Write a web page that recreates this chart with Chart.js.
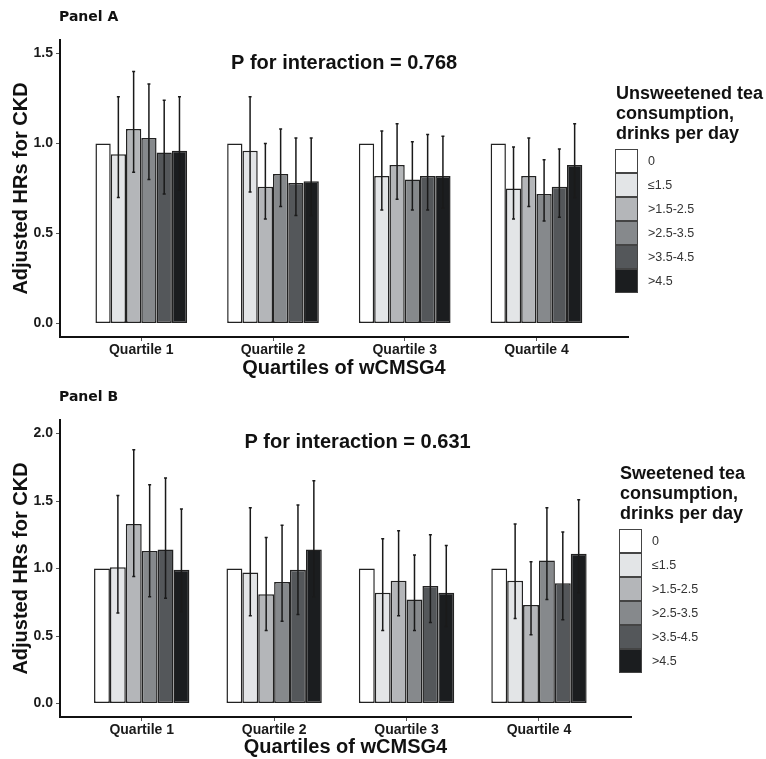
<!DOCTYPE html>
<html>
<head>
<meta charset="utf-8">
<script src="https://cdn.jsdelivr.net/npm/chart.js@4.4.1/dist/chart.umd.min.js"></script>
<style>
    body { margin: 0; background: #fff; }
    #wrap { position: relative; width: 766px; height: 759px; background: #fff; }
    canvas { position: absolute; left: 0; }
    .legend { position: absolute; font-family: "Liberation Sans", Arial, sans-serif; color: #111; }
    .legend-title { font-weight: bold; font-size: 18px; line-height: 20px; white-space: nowrap; }
    .legend-item { position: absolute; height: 24px; }
    .legend-key { position: absolute; top: 0; width: 23px; height: 24px; box-sizing: border-box; border: 1.5px solid #444; }
    .legend-label { position: absolute; top: 0; line-height: 24px; font-size: 12.5px; color: #333; white-space: nowrap; }
</style>
</head>
<body>
<div id="wrap">
    <canvas id="panelA" width="766" height="380" style="top:0"></canvas>
    <canvas id="panelB" width="766" height="379" style="top:380px"></canvas>
    <div id="legendA" class="legend"></div>
    <div id="legendB" class="legend"></div>
</div>
<script>
const QUARTILES = ['Quartile 1', 'Quartile 2', 'Quartile 3', 'Quartile 4'];
const LEVELS = ['0', '≤1.5', '>1.5-2.5', '>2.5-3.5', '>3.5-4.5', '>4.5'];

// Panel A - unsweetened tea (rows = level, cols = quartile)
const unsweetHR = [
    [1.00, 1.00, 1.00, 1.00],
    [0.94, 0.96, 0.82, 0.75],
    [1.08, 0.76, 0.88, 0.82],
    [1.03, 0.83, 0.80, 0.72],
    [0.95, 0.78, 0.82, 0.76],
    [0.96, 0.79, 0.82, 0.88]
];
const unsweetLow = [
    [null, null, null, null],
    [0.70, 0.73, 0.63, 0.58],
    [0.84, 0.58, 0.69, 0.65],
    [0.80, 0.65, 0.63, 0.57],
    [0.72, 0.60, 0.63, 0.59],
    [0.74, 0.60, 0.64, 0.70]
];
const unsweetHigh = [
    [null, null, null, null],
    [1.26, 1.26, 1.07, 0.98],
    [1.40, 1.00, 1.11, 1.03],
    [1.33, 1.08, 1.01, 0.91],
    [1.24, 1.03, 1.05, 0.97],
    [1.26, 1.03, 1.04, 1.11]
];

// Panel B - sweetened tea
const sweetHR = [
    [1.00, 1.00, 1.00, 1.00],
    [1.01, 0.97, 0.82, 0.91],
    [1.33, 0.81, 0.91, 0.73],
    [1.13, 0.90, 0.77, 1.06],
    [1.14, 0.99, 0.87, 0.89],
    [0.99, 1.14, 0.82, 1.11]
];
const sweetLow = [
    [null, null, null, null],
    [0.67, 0.65, 0.54, 0.63],
    [0.94, 0.54, 0.65, 0.51],
    [0.79, 0.61, 0.54, 0.77],
    [0.78, 0.66, 0.60, 0.62],
    [0.68, 0.79, 0.57, 0.82]
];
const sweetHigh = [
    [null, null, null, null],
    [1.54, 1.45, 1.22, 1.33],
    [1.88, 1.23, 1.28, 1.05],
    [1.62, 1.32, 1.10, 1.45],
    [1.67, 1.47, 1.25, 1.27],
    [1.44, 1.65, 1.17, 1.51]
];

const yTicksA = [0, 0.5, 1.0, 1.5];
const yTicksB = [0, 0.5, 1.0, 1.5, 2.0];

const FILLS = ['#ffffff', '#e3e5e7', '#b4b6b9', '#86898c', '#54575a', '#1b1d1f'];
const FONT = '"Liberation Sans", Arial, sans-serif';

// whiskers for the confidence intervals
const errorBars = {
    id: 'errorBars',
    afterDatasetsDraw(chart) {
        const ctx = chart.ctx;
        const y = chart.scales.y;
        ctx.save();
        ctx.strokeStyle = '#1a1a1a';
        ctx.lineWidth = 1.5;
        chart.data.datasets.forEach((ds, i) => {
            const meta = chart.getDatasetMeta(i);
            meta.data.forEach((bar, j) => {
                const lo = ds.low[j], hi = ds.high[j];
                if (lo == null || hi == null) return;
                const yl = y.getPixelForValue(lo);
                const yh = y.getPixelForValue(hi);
                ctx.beginPath();
                ctx.moveTo(bar.x, yl); ctx.lineTo(bar.x, yh);
                ctx.moveTo(bar.x - 1.5, yl); ctx.lineTo(bar.x + 1.5, yl);
                ctx.moveTo(bar.x - 1.5, yh); ctx.lineTo(bar.x + 1.5, yh);
                ctx.stroke();
            });
        });
        ctx.restore();
    }
};

// "Panel X" heading and the P for interaction note
const panelText = {
    id: 'panelText',
    afterDraw(chart, args, opts) {
        const ctx = chart.ctx;
        ctx.save();
        ctx.fillStyle = '#111';
        ctx.textBaseline = 'middle';
        ctx.textAlign = 'left';
        ctx.font = 'bold 14px "DejaVu Sans"';
        ctx.fillText(opts.panel, chart.chartArea.left - 1, 17);
        ctx.textAlign = 'center';
        ctx.font = 'bold 20px ' + FONT;
        ctx.fillText(opts.note, chart.scales.x.getPixelForValue(opts.noteX), chart.scales.y.getPixelForValue(opts.noteY));
        ctx.restore();
    }
};

function buildDatasets(hr, low, high, catPct) {
    return LEVELS.map((lvl, i) => ({
        label: lvl,
        data: hr[i].map((v, q) => ({ x: q + 1, y: v })),
        low: low[i],
        high: high[i],
        backgroundColor: FILLS[i],
        borderColor: '#222',
        borderWidth: 1.5,
        borderSkipped: false,
        categoryPercentage: catPct,
        barPercentage: 1
    }));
}

function createPanel(id, cfg) {
    const ctx = document.getElementById(id).getContext('2d');
    new Chart(ctx, {
        type: 'bar',
        data: { datasets: buildDatasets(cfg.hr, cfg.low, cfg.high, cfg.catPct) },
        options: {
            responsive: false,
            animation: false,
            devicePixelRatio: 1,
            layout: { padding: { top: 40, left: 0, right: cfg.padRight, bottom: 0 } },
            plugins: {
                legend: { display: false },
                tooltip: { enabled: false },
                panelText: { panel: cfg.panel, note: cfg.note, noteX: cfg.noteX, noteY: cfg.noteY }
            },
            scales: {
                x: {
                    type: 'linear',
                    min: 0.383,
                    max: 4.695,
                    offset: false,
                    afterBuildTicks: s => { s.ticks = QUARTILES.map((q, i) => ({ value: i + 1 })); },
                    afterFit: s => { s.height = cfg.xHeight; },
                    ticks: {
                        callback: v => QUARTILES[v - 1],
                        color: '#1a1a1a',
                        font: { family: FONT, size: 14, weight: 'bold' },
                        padding: 1,
                        maxRotation: 0
                    },
                    grid: { display: true, offset: false, drawOnChartArea: false, drawTicks: true, tickLength: 4, color: '#555' },
                    border: { display: true, color: '#111', width: 2 },
                    title: {
                        display: true,
                        text: 'Quartiles of wCMSG4',
                        color: '#111',
                        font: { family: FONT, size: 20, weight: 'bold' },
                        padding: { top: 0, bottom: 0 }
                    }
                },
                y: {
                    min: cfg.yMin,
                    max: cfg.yMax,
                    afterBuildTicks: s => { s.ticks = cfg.yTicks.map(v => ({ value: v })); },
                    afterFit: s => { s.width = 60; },
                    ticks: {
                        callback: v => v.toFixed(1),
                        color: '#1a1a1a',
                        font: { family: FONT, size: 14, weight: 'bold' },
                        padding: 3
                    },
                    grid: { display: true, drawOnChartArea: false, drawTicks: true, tickLength: 4, color: '#555' },
                    border: { display: true, color: '#111', width: 2 },
                    title: {
                        display: true,
                        text: 'Adjusted HRs for CKD',
                        color: '#111',
                        font: { family: FONT, size: 20, weight: 'bold' },
                        padding: { top: 9, bottom: 0 }
                    }
                }
            }
        },
        plugins: [errorBars, panelText]
    });
}

function buildLegend(id, titleLines, left, top) {
    const box = document.getElementById(id);
    box.style.left = left + 'px';
    box.style.top = top + 'px';
    box.innerHTML = '<div class="legend-title">' + titleLines.join('<br>') + '</div>';
    LEVELS.forEach((lvl, i) => {
        const item = document.createElement('div');
        item.className = 'legend-item';
        item.style.top = (66 + i * 24) + 'px';
        item.innerHTML = '<div class="legend-key" style="left:-1px;background:' + FILLS[i] + '"></div>' +
            '<div class="legend-label" style="left:32px">' + lvl + '</div>';
        box.appendChild(item);
    });
}

createPanel('panelA', {
    hr: unsweetHR, low: unsweetLow, high: unsweetHigh,
    catPct: 0.696, padRight: 138, xHeight: 43,
    yMin: -0.075, yMax: 1.575, yTicks: yTicksA,
    panel: 'Panel A', note: 'P for interaction = 0.768', noteX: 2.54, noteY: 1.442
});

createPanel('panelB', {
    hr: sweetHR, low: sweetLow, high: sweetHigh,
    catPct: 0.72, padRight: 135, xHeight: 42,
    yMin: -0.1, yMax: 2.1, yTicks: yTicksB,
    panel: 'Panel B', note: 'P for interaction = 0.631', noteX: 2.63, noteY: 1.937
});

buildLegend('legendA', ['Unsweetened tea', 'consumption,', 'drinks per day'], 616, 83);
buildLegend('legendB', ['Sweetened tea', 'consumption,', 'drinks per day'], 620, 463);
</script>
</body>
</html>
